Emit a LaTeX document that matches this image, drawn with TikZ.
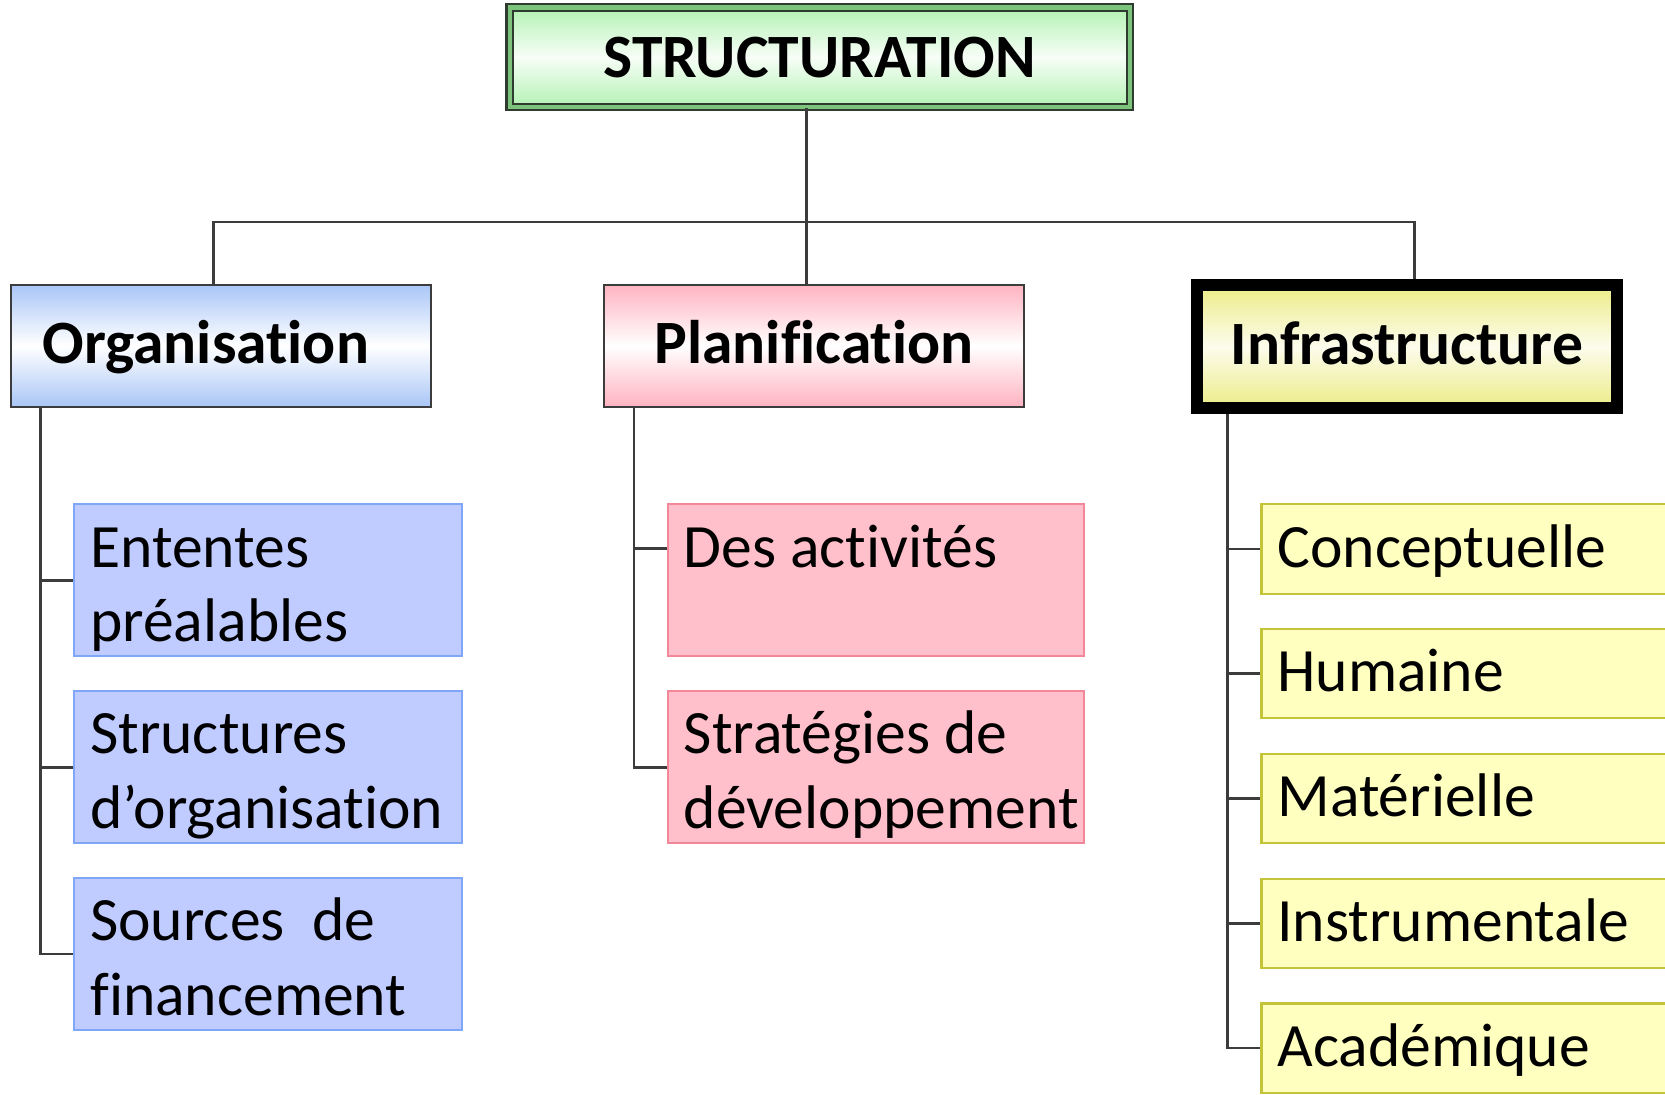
\documentclass[tikz,border=0pt]{standalone}
\usepackage{fontspec}
\setmainfont{Carlito}[Ligatures=NoCommon]
\usetikzlibrary{positioning}

\definecolor{linegray}{HTML}{3C3C3C}
\definecolor{structdark}{HTML}{2E3B2E}
\definecolor{structstripe}{HTML}{7CC47C}
\definecolor{structtop}{HTML}{B3F2B3}
\definecolor{orgtop}{HTML}{A9C6F7}
\definecolor{plantop}{HTML}{FFB3C1}
\definecolor{infratop}{HTML}{ECEC86}
\definecolor{orgfill}{HTML}{C0CBFF}
\definecolor{orgline}{HTML}{80A6F8}
\definecolor{planfill}{HTML}{FFC0CB}
\definecolor{planline}{HTML}{F2879A}
\definecolor{infrafill}{HTML}{FFFFC0}
\definecolor{infraline}{HTML}{C4C43A}

\tikzset{
	conn/.style={draw=linegray, line width=2.5pt},
	head/.style={font=\fontsize{58}{70}\selectfont\bfseries, inner sep=0pt, text height=38pt, text depth=4pt},
	leaf/.style={anchor=north west, font=\fontsize{58}{70}\selectfont, align=flush left,
		inner xsep=15pt, inner ysep=0pt, text height=59pt, line width=2pt},
	orgleaf/.style={leaf, draw=orgline, fill=orgfill, text width=335pt, text depth=84pt},
	planleaf/.style={leaf, draw=planline, fill=planfill, text width=362pt, text depth=84pt},
	infraleaf/.style={leaf, draw=infraline, fill=infrafill, text width=423pt, text depth=25pt}
}

\begin{document}
\begin{tikzpicture}[x=1pt,y=-1pt]
	\useasboundingbox (0,0) rectangle (1568,1031);
	\clip (0,0) rectangle (1568,1031);
	
	%top box
	\node[head, text depth=0pt, draw=structdark, line width=2pt, double=structstripe, double distance=4pt,
		top color=structtop, bottom color=structtop, middle color=white!90!structtop,
		minimum width=584pt, minimum height=94pt] (struct) at (772,54) {STRUCTURATION};
	
	%second level
	\node[head, draw=linegray, line width=2pt, top color=orgtop, bottom color=orgtop, middle color=white,
		text width=336pt, align=flush left, inner xsep=30pt, minimum height=115pt] (org) at (208,325.5) {Organisation};
	\node[head, draw=linegray, line width=2pt, top color=plantop, bottom color=plantop, middle color=white,
		minimum width=395pt, minimum height=115pt] (plan) at (766.5,325.5) {Planification};
	\node[head, draw=black, line width=11pt, top color=infratop, bottom color=infratop, middle color=white!85!infratop,
		minimum width=395pt, minimum height=116pt] (infra) at (1325,326.5) {Infrastructure};
	
	%leaves - Organisation
	\node[orgleaf] (ent) at (69,474) {Ententes\\préalables};
	\node[orgleaf, below=31pt of ent] (str) {Structures\\d’organisation};
	\node[orgleaf, below=31pt of str] (sou) {Sources \ de\\financement};
	
	%leaves - Planification
	\node[planleaf] (act) at (628,474) {Des activités};
	\node[planleaf, below=31pt of act] (strat) {Stratégies de\\développement};
	
	%leaves - Infrastructure
	\node[infraleaf] (conc) at (1187,474) {Conceptuelle};
	\node[infraleaf, below=31.5pt of conc] (hum) {Humaine};
	\node[infraleaf, below=31.5pt of hum] (mat) {Matérielle};
	\node[infraleaf, below=31.5pt of mat] (inst) {Instrumentale};
	\node[infraleaf, below=31.5pt of inst] (acad) {Académique};
	
	%connectors - top
	\coordinate (bus) at (759.5,209);
	\draw[conn] ([xshift=-12.5pt]struct.south) -- (bus);
	\draw[conn] ([xshift=-7pt]org.north) |- (bus) -| ([xshift=7pt]infra.north);
	\draw[conn] (bus) -- (bus |- plan.north);
	
	%connectors - leaves
	\foreach \n in {ent,str,sou}
		\draw[conn] ([xshift=29pt]org.south west) |- (\n.west);
	\draw[conn] ([xshift=29pt]plan.south west) |- ([yshift=30pt]act.west);
	\draw[conn] ([xshift=29pt]plan.south west) |- (strat.west);
	\foreach \n in {conc,hum,mat,inst,acad}
		\draw[conn] ([xshift=34pt]infra.south west) |- (\n.west);
\end{tikzpicture}
\end{document}
